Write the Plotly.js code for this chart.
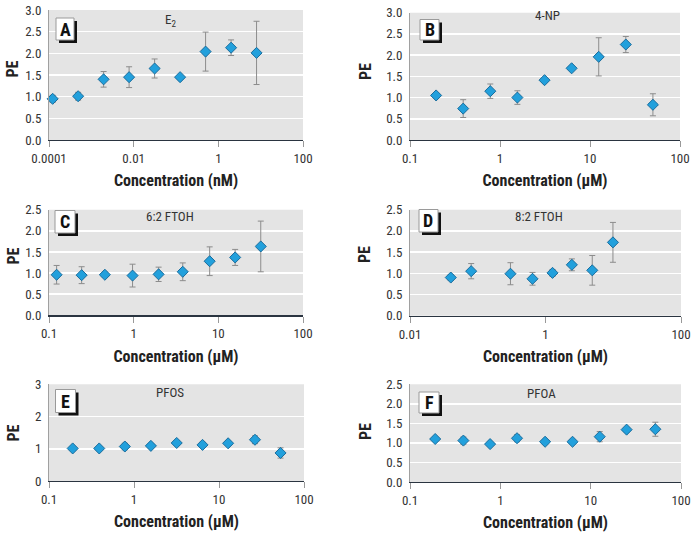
<!DOCTYPE html>
<html>
<head>
<meta charset="utf-8">
<script src="https://cdn.plot.ly/plotly-3.0.1.min.js"></script>
<style>html,body{margin:0;padding:0;background:#fff}#chart{width:692px;height:534px}</style>
</head>
<body>
<div id="chart"></div>
<script>
// ---- data ----
const panelLetters = ["A", "B", "C", "D", "E", "F"];
const compounds = ["E<sub>2</sub>", "4-NP", "6:2 FTOH", "8:2 FTOH", "PFOS", "PFOA"];
const xTitles = ["Concentration (nM)", "Concentration (\u03bcM)", "Concentration (\u03bcM)", "Concentration (\u03bcM)", "Concentration (\u03bcM)", "Concentration (\u03bcM)"];
const yTitle = "PE";

const concA = [0.000122, 0.000488, 0.00195, 0.0078, 0.03125, 0.125, 0.5, 2, 8];
const peA = [0.95, 1.01, 1.40, 1.45, 1.65, 1.45, 2.04, 2.13, 2.01];
const errA = [0.08, 0.09, 0.18, 0.24, 0.22, 0.03, 0.45, 0.18, 0.73];

const concB = [0.195, 0.39, 0.78, 1.56, 3.125, 6.25, 12.5, 25, 50];
const peB = [1.05, 0.74, 1.15, 1.00, 1.41, 1.69, 1.96, 2.25, 0.83];
const errB = [0.05, 0.21, 0.17, 0.16, 0.04, 0.03, 0.45, 0.19, 0.26];

const concC = [0.123, 0.243, 0.457, 0.97, 1.97, 3.8, 7.9, 15.8, 31.7];
const peC = [0.96, 0.95, 0.96, 0.94, 0.97, 1.03, 1.28, 1.37, 1.63];
const errC = [0.22, 0.20, 0.06, 0.27, 0.17, 0.21, 0.34, 0.19, 0.60];

const concD = [0.04, 0.08, 0.304, 0.643, 1.27, 2.45, 4.9, 9.9];
const peD = [0.90, 1.05, 0.99, 0.87, 1.01, 1.20, 1.07, 1.73];
const errD = [0.07, 0.18, 0.26, 0.15, 0.08, 0.14, 0.35, 0.47];

const concE = [0.19, 0.39, 0.78, 1.58, 3.18, 6.4, 12.8, 26.5, 53];
const peE = [1.01, 1.01, 1.07, 1.09, 1.18, 1.12, 1.17, 1.28, 0.87];
const errE = [0.06, 0.05, 0.10, 0.06, 0.07, 0.08, 0.06, 0.12, 0.16];

const concF = [0.19, 0.39, 0.77, 1.53, 3.13, 6.3, 12.6, 25, 52];
const peF = [1.10, 1.06, 0.97, 1.12, 1.03, 1.03, 1.16, 1.34, 1.35];
const errF = [0.05, 0.09, 0.04, 0.09, 0.05, 0.05, 0.13, 0.05, 0.18];

const xTickValsA = [0.0001, 0.01, 1, 100];
const xTickTextA = ["0.0001", "0.01", "1", "100"];
const xTickValsB = [0.1, 1, 10, 100];
const xTickTextB = ["0.1", "1", "10", "100"];
const xTickValsD = [0.01, 1, 100];
const xTickTextD = ["0.01", "1", "100"];
const yTicksHalf3 = [0, 0.5, 1, 1.5, 2, 2.5, 3];
const yTicksHalf25 = [0, 0.5, 1, 1.5, 2, 2.5];
const yTicksInt3 = [0, 1, 2, 3];

const series = [
  {x: concA, y: peA, e: errA, tv: xTickValsA, tt: xTickTextA, yt: yTicksHalf3, fmt: ".1f"},
  {x: concB, y: peB, e: errB, tv: xTickValsB, tt: xTickTextB, yt: yTicksHalf3, fmt: ".1f"},
  {x: concC, y: peC, e: errC, tv: xTickValsB, tt: xTickTextB, yt: yTicksHalf25, fmt: ".1f"},
  {x: concD, y: peD, e: errD, tv: xTickValsD, tt: xTickTextD, yt: yTicksHalf25, fmt: ".1f"},
  {x: concE, y: peE, e: errE, tv: xTickValsB, tt: xTickTextB, yt: yTicksInt3, fmt: "d"},
  {x: concF, y: peF, e: errF, tv: xTickValsB, tt: xTickTextB, yt: yTicksHalf25, fmt: ".1f"}
];

// ---- layout geometry (pixels) ----
const W = 692, H = 534;
const rects = [ // left, right, top, bottom
  [49, 303, 10, 140],
  [410, 680, 12.7, 140],
  [49, 303, 209.7, 315.3],
  [410, 681, 209.7, 315.7],
  [49, 304, 384.3, 481],
  [410, 681, 384.3, 482]
];
const boxes = [ // x0, y0, x1, y1 of the letter box (shadow added +3)
  [56, 18, 74, 40],
  [420, 19.5, 439, 40],
  [55, 210.5, 75, 233],
  [419, 209.5, 438, 232],
  [55.5, 389.5, 75.5, 412.5],
  [419, 392, 439, 413]
];
const labelPos = [[170, 21], [547, 16], [170, 216], [539, 216], [170, 392], [541, 393]];
const peTitlePos = [[12.5, 69], [365, 72], [12.5, 256], [365, 255], [12.5, 433], [365, 432]];

const FONT = "'Roboto Condensed', Roboto, sans-serif";
const px = v => v / W, py = v => 1 - v / H;

const traces = [], shapes = [], annotations = [];
const layout = {
  width: W, height: H,
  margin: {l: 0, r: 0, t: 0, b: 0},
  paper_bgcolor: "#ffffff",
  showlegend: false,
  font: {family: FONT, size: 13, color: "#333333"}
};

series.forEach((s, i) => {
  const n = i + 1;
  const suf = n === 1 ? "" : String(n);
  const xa = "x" + suf, ya = "y" + suf;
  const r = rects[i];
  traces.push({
    type: "scatter", mode: "markers",
    x: s.x, y: s.y, xaxis: xa, yaxis: ya,
    marker: {symbol: "diamond", size: 8.5, color: "#22a0dc", line: {color: "#1a6c9c", width: 1}},
    error_y: {type: "data", array: s.e, visible: true, color: "#8c8c8c", thickness: 1, width: 3},
    cliponaxis: false
  });
  const lo = Math.log10(s.tv[0]), hi = Math.log10(s.tv[s.tv.length - 1]);
  layout["xaxis" + suf] = {
    type: "log", domain: [px(r[0]), px(r[1])], anchor: ya,
    range: [lo, hi], tickvals: s.tv, ticktext: s.tt,
    showgrid: false, zeroline: false,
    showline: true, linecolor: "#2a3440", linewidth: 1.3,
    ticks: "outside", ticklen: 6, tickcolor: "#999999", tickwidth: 1,
    tickfont: {family: FONT, size: 13, color: "#333333"},
    title: {text: xTitles[i], font: {family: FONT, size: 16, color: "#222222", weight: "bold"}, standoff: 10},
    fixedrange: true
  };
  const ymax = s.yt[s.yt.length - 1];
  layout["yaxis" + suf] = {
    domain: [py(r[3]), py(r[2])], anchor: xa,
    range: [0, ymax], tickvals: s.yt, tickformat: s.fmt,
    showgrid: true, gridcolor: "#ffffff", gridwidth: 1.5,
    zeroline: false, showline: true, linecolor: "#a0a0a0", linewidth: 1,
    ticks: "", ticklabelstandoff: 4,
    tickfont: {family: FONT, size: 13, color: "#333333"},
    fixedrange: true
  };
  // y-axis title placed as rotated annotation
  annotations.push({xref: "paper", yref: "paper", x: px(peTitlePos[i][0]), y: py(peTitlePos[i][1]),
    text: "<b>" + yTitle + "</b>", textangle: -90, showarrow: false, xanchor: "center", yanchor: "middle",
    font: {family: FONT, size: 16, color: "#222222"}});
  // grey plot background
  shapes.push({type: "rect", xref: "paper", yref: "paper", layer: "below",
    x0: px(r[0]), x1: px(r[1]), y0: py(r[3]), y1: py(r[2]),
    fillcolor: "#e4e4e4", line: {width: 0}});
  // letter box with shadow
  const b = boxes[i];
  shapes.push({type: "rect", xref: "paper", yref: "paper", layer: "above",
    x0: px(b[0] + 3), x1: px(b[2] + 3), y0: py(b[3] + 3), y1: py(b[1] + 3),
    fillcolor: "#111111", line: {width: 0}});
  shapes.push({type: "rect", xref: "paper", yref: "paper", layer: "above",
    x0: px(b[0]), x1: px(b[2]), y0: py(b[3]), y1: py(b[1]),
    fillcolor: "#ffffff", line: {width: 1, color: "#9a9a9a"}});
  annotations.push({xref: "paper", yref: "paper", x: px((b[0] + b[2]) / 2), y: py((b[1] + b[3]) / 2),
    text: "<b>" + panelLetters[i] + "</b>", showarrow: false, xanchor: "center", yanchor: "middle",
    font: {family: FONT, size: 18, color: "#111111"}});
  annotations.push({xref: "paper", yref: "paper", x: px(labelPos[i][0]), y: py(labelPos[i][1]),
    text: compounds[i], showarrow: false, xanchor: "center", yanchor: "middle",
    font: {family: FONT, size: 13, color: "#333333"}});
});
layout.shapes = shapes;
layout.annotations = annotations;

Plotly.newPlot("chart", traces, layout, {staticPlot: true, displayModeBar: false});
</script>
</body>
</html>
